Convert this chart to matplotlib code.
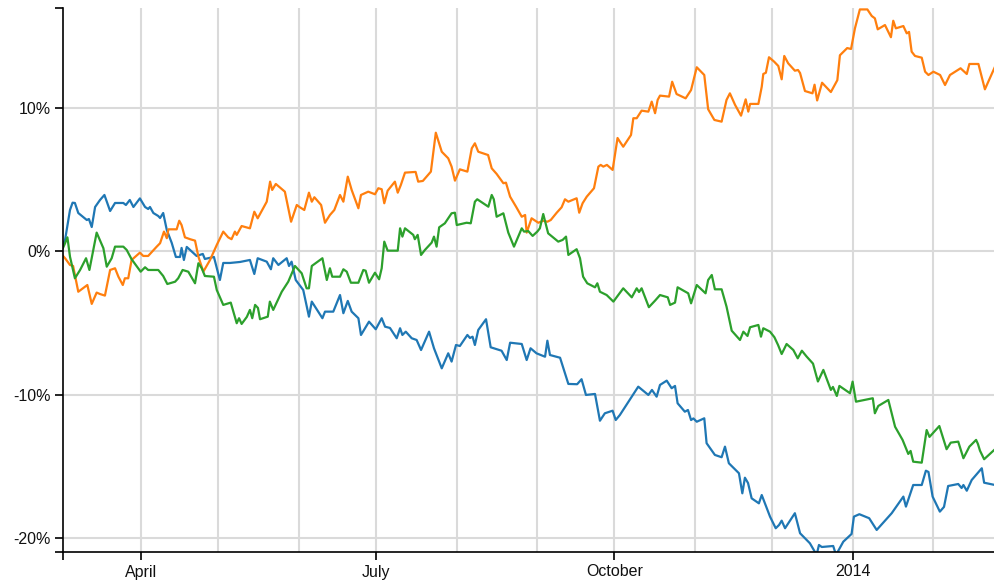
import matplotlib
matplotlib.use("Agg")
import matplotlib.pyplot as plt
import pandas as pd

START = pd.Timestamp("2013-03-02")
END_DAYS = 360

# days since START, cumulative change in %
BLUE_DAYS = [0, 0.8, 2.7, 3.7, 4.6, 5.9, 9.2, 10.0, 11.1, 12.4, 14.3, 16.0, 18.2, 20.1, 23.3, 24.3,
             25.8, 27.2, 29.7, 31.7, 32.9, 33.6, 34.9, 36.8, 37.5, 38.7, 40.1, 42.0, 43.6, 45.2,
             45.8, 46.7, 47.8, 51.6, 54.0, 54.8, 58.3, 60.6, 61.9, 64.5, 68.4, 72.2, 73.9, 75.2,
             78.7, 80.3, 81.2, 83.2, 86.4, 87.3, 88.3, 89.9, 92.8, 95.0, 96.1, 100.2, 101.2, 104.4,
             107.0, 108.3, 110.0, 111.5, 114.1, 115.1, 118.2, 120.8, 123.1, 124.4, 126.3, 128.9,
             130.2, 131.1, 132.4, 134.7, 136.6, 138.3, 141.4, 143.3, 146.3, 148.8, 150.1, 151.8,
             153.3, 156.2, 157.2, 158.2, 159.1, 160.4, 163.4, 165.2, 169.4, 171.4, 172.7, 177.2,
             179.1, 180.6, 182.9, 186.2, 187.1, 188.1, 192.0, 195.2, 198.6, 200.3, 202.0, 205.5,
             207.4, 209.3, 212.3, 213.5, 215.1, 219.7, 222.2, 226.1, 227.5, 229.3, 230.6, 233.2,
             235.1, 236.4, 237.4, 240.2, 241.4, 242.6, 243.5, 244.8, 247.7, 248.6, 251.8, 254.4,
             255.7, 257.2, 261.1, 262.4, 263.4, 264.6, 266.0, 268.8, 269.9, 273.1, 275.3, 276.6,
             277.6, 278.9, 282.7, 284.7, 288.5, 291.1, 292.0, 293.1, 297.5, 298.6, 301.4, 304.6,
             305.5, 307.6, 311.4, 314.3, 320.1, 324.6, 325.6, 328.4, 331.7, 333.3, 334.3, 335.9,
             338.7, 340.3, 341.9, 345.8, 347.1, 347.8, 349.1, 351.0, 354.9, 355.8, 360.0]
BLUE_PCT = [0.52, 0.80, 2.89, 3.40, 3.38, 2.68, 2.19, 2.26, 1.70, 3.10, 3.59, 3.94, 2.82, 3.38, 3.38,
            3.24, 3.59, 3.10, 3.70, 3.10, 2.96, 3.10, 2.68, 2.47, 2.33, 2.68, 1.49, 0.59, -0.39,
            -0.39, 0.24, -0.60, 0.31, -0.32, -0.18, -0.53, -0.39, -2.00, -0.81, -0.81, -0.74,
            -0.60, -1.58, -0.48, -0.72, -1.25, -0.48, -0.95, -0.48, -1.02, -0.72, -2.00, -2.70,
            -4.56, -3.51, -4.67, -4.21, -4.21, -3.05, -4.32, -3.46, -4.21, -4.67, -5.84, -4.91,
            -5.44, -4.67, -5.26, -5.35, -6.07, -5.37, -5.84, -5.61, -6.07, -6.19, -6.89, -5.61,
            -6.77, -8.17, -7.12, -7.70, -6.54, -6.61, -5.84, -6.05, -5.96, -6.54, -5.49, -4.74,
            -6.70, -6.94, -7.59, -6.38, -6.47, -7.59, -6.77, -7.12, -7.36, -6.24, -7.24, -7.43,
            -9.26, -9.28, -8.93, -10.03, -9.96, -11.83, -11.31, -11.13, -11.78, -11.43, -10.15,
            -9.45, -10.03, -9.68, -10.15, -9.33, -9.03, -9.56, -9.40, -10.61, -11.20, -11.08,
            -11.78, -11.67, -11.90, -11.66, -13.40, -14.22, -14.38, -13.64, -14.80, -15.50, -16.90,
            -15.81, -16.18, -17.25, -17.60, -17.02, -18.53, -19.34, -19.11, -18.81, -19.34, -18.29,
            -19.69, -20.39, -21.2, -20.51, -20.65, -20.58, -21.2, -20.28, -19.74, -18.53, -18.36,
            -18.64, -19.46, -18.29, -17.13, -17.83, -16.32, -16.32, -15.32, -15.41, -17.13, -18.18,
            -17.85, -16.39, -16.25, -16.53, -16.32, -16.72, -15.97, -15.15, -16.16, -16.32]

ORANGE_DAYS = [0, 0.8, 2.7, 3.9, 5.9, 8.5, 9.4, 11.1, 13.0, 14.3, 16.2, 18.2, 20.1, 21.4, 23.1, 23.9,
               25.2, 26.5, 29.7, 31.0, 32.9, 36.2, 37.5, 39.0, 40.1, 40.7, 43.9, 44.9, 45.8, 47.1,
               49.1, 51.0, 52.3, 54.2, 56.8, 59.4, 61.9, 63.8, 65.1, 66.4, 67.1, 69.0, 72.2, 73.9,
               75.2, 78.7, 80.0, 80.8, 82.2, 85.7, 88.1, 90.3, 91.5, 93.2, 95.0, 96.1, 97.1, 99.7,
               101.2, 103.1, 104.8, 107.0, 108.3, 110.0, 111.5, 114.1, 115.1, 117.9, 120.5, 121.8,
               123.1, 124.1, 125.4, 128.2, 129.3, 130.5, 132.1, 136.2, 137.2, 139.0, 142.1, 144.0,
               146.3, 148.8, 150.1, 151.4, 153.3, 156.2, 157.9, 159.1, 160.4, 164.2, 165.6, 167.5,
               170.1, 171.1, 172.7, 175.0, 177.2, 178.5, 179.1, 181.0, 183.6, 185.5, 187.1, 188.4,
               190.7, 192.6, 193.9, 195.2, 198.4, 199.4, 200.7, 202.3, 205.1, 206.8, 207.7, 208.7,
               210.1, 212.3, 214.2, 215.1, 216.4, 219.4, 220.3, 221.6, 223.5, 226.1, 227.4, 228.7,
               229.7, 230.6, 234.1, 235.3, 237.0, 240.5, 242.6, 244.8, 247.7, 249.2, 251.6, 254.4,
               256.3, 257.6, 259.6, 261.9, 263.7, 264.7, 265.4, 268.6, 269.9, 270.5, 271.5, 272.7,
               274.7, 276.3, 277.6, 278.6, 280.1, 282.7, 283.9, 284.7, 286.6, 289.5, 290.3, 291.3,
               293.2, 296.6, 299.1, 300.1, 302.9, 304.4, 305.9, 307.8, 310.7, 312.4, 313.6, 314.7,
               317.5, 319.8, 320.7, 321.7, 324.6, 325.9, 326.8, 327.8, 329.1, 331.7, 333.0, 334.3,
               336.2, 338.8, 340.7, 342.6, 346.7, 349.1, 350.1, 353.6, 356.1, 360.0]
ORANGE_PCT = [-0.32, -0.48, -0.95, -1.02, -2.82, -2.47, -2.35, -3.67, -2.88, -2.98, -3.09, -1.30,
              -1.18, -1.77, -2.35, -1.88, -1.88, -0.60, -0.09, -0.32, -0.32, 0.33, 0.57, 1.38, 0.92,
              1.54, 1.54, 2.14, 1.84, 0.98, 0.85, 0.75, -0.37, -1.42, -0.60, 0.45, 1.38, 0.98, 0.85,
              1.38, 1.15, 1.77, 1.61, 2.77, 2.31, 3.47, 4.87, 4.29, 4.71, 4.17, 2.07, 3.24, 3.08,
              2.89, 4.10, 3.47, 3.78, 3.24, 2.00, 2.54, 2.89, 3.94, 3.47, 5.22, 4.29, 3.01, 3.94,
              4.17, 3.99, 4.41, 4.34, 3.36, 4.24, 4.87, 4.10, 4.64, 5.50, 5.55, 4.87, 4.92, 5.57,
              8.29, 6.96, 6.50, 5.92, 4.94, 5.73, 5.57, 7.20, 7.55, 6.96, 6.73, 5.80, 5.41, 4.76,
              4.80, 3.82, 3.12, 2.42, 2.54, 1.31, 2.31, 2.00, 2.14, 2.07, 2.19, 2.70, 3.08, 3.64,
              3.47, 3.71, 2.70, 3.36, 3.82, 4.41, 5.92, 6.04, 5.92, 6.04, 5.69, 7.92, 7.66, 7.31,
              8.13, 9.30, 9.30, 9.83, 9.76, 10.46, 9.65, 10.58, 10.88, 10.81, 11.85, 10.99, 10.69,
              11.27, 12.86, 12.32, 9.93, 9.18, 9.06, 10.58, 11.04, 10.23, 9.48, 10.62, 9.76, 10.30,
              10.30, 11.50, 12.39, 12.48, 13.56, 13.25, 12.95, 12.02, 13.65, 13.14, 12.62, 12.67,
              12.46, 11.20, 11.04, 11.64, 10.54, 11.78, 11.13, 11.96, 13.70, 14.20, 14.14, 15.58,
              16.9, 16.9, 16.44, 16.28, 15.51, 15.81, 14.96, 16.11, 15.58, 15.74, 15.23, 15.33,
              13.95, 13.65, 13.53, 12.55, 12.32, 12.55, 12.32, 11.62, 12.32, 12.79, 12.39, 13.09,
              13.09, 11.32, 12.90]

GREEN_DAYS = [0, 0.8, 1.7, 2.7, 4.6, 6.6, 8.9, 10.2, 13.0, 15.6, 16.9, 18.8, 20.1, 23.3, 24.6, 26.5,
              30.0, 31.7, 32.9, 36.8, 38.7, 40.3, 43.3, 44.5, 46.2, 48.4, 51.0, 52.3, 53.6, 54.8,
              58.3, 59.4, 61.9, 64.8, 67.1, 68.0, 69.0, 71.0, 72.2, 73.1, 74.2, 75.3, 76.1, 79.1,
              79.9, 81.2, 84.5, 87.0, 89.6, 92.2, 94.1, 95.0, 96.1, 100.2, 101.9, 103.1, 104.0,
              107.0, 108.3, 109.6, 111.2, 114.1, 116.0, 116.9, 118.2, 120.5, 122.1, 123.1, 124.1,
              125.4, 129.3, 130.2, 131.1, 132.1, 135.3, 135.9, 137.0, 138.3, 139.8, 142.4, 143.3,
              144.3, 145.3, 147.5, 150.1, 151.4, 152.1, 155.9, 157.5, 159.1, 160.0, 164.3, 165.6,
              166.4, 167.5, 170.1, 172.0, 174.2, 177.2, 178.1, 179.7, 181.4, 183.2, 184.2, 185.5,
              187.4, 191.3, 193.0, 194.3, 195.2, 198.4, 199.7, 200.9, 202.5, 205.5, 206.4, 207.4,
              210.0, 212.6, 216.4, 219.7, 221.6, 222.5, 223.5, 226.3, 228.7, 230.6, 233.6, 234.5,
              236.4, 237.4, 241.5, 242.6, 244.8, 248.2, 249.2, 250.6, 251.8, 254.4, 256.3, 258.3,
              261.5, 262.8, 264.4, 265.4, 268.6, 269.6, 270.5, 273.1, 274.8, 276.2, 277.6, 279.5,
              282.1, 283.8, 285.4, 287.2, 289.7, 291.6, 293.7, 296.6, 297.4, 298.9, 299.9, 304.0,
              305.0, 306.3, 312.8, 313.6, 314.9, 318.8, 321.4, 324.3, 326.5, 327.4, 328.4, 331.7,
              333.6, 334.7, 338.5, 341.3, 342.9, 345.8, 347.8, 350.1, 352.7, 353.4, 354.2, 355.8,
              360.0]
GREEN_PCT = [0.24, 0.57, 0.98, -0.37, -1.88, -1.30, -0.48, -1.30, 1.31, 0.22, -1.07, -0.48, 0.33,
             0.33, 0.10, -0.55, -1.42, -1.11, -1.30, -1.30, -1.72, -2.28, -2.12, -1.88, -1.30, -1.42,
             -2.23, -0.83, -1.18, -1.72, -1.77, -2.70, -3.74, -3.58, -5.02, -4.67, -5.07, -4.58,
             -4.09, -4.67, -3.74, -3.95, -4.74, -4.56, -3.51, -4.09, -2.82, -2.12, -1.02, -1.53,
             -2.58, -2.58, -1.02, -0.48, -2.00, -1.18, -1.77, -1.77, -1.25, -1.42, -2.19, -2.19,
             -1.30, -1.35, -2.19, -1.49, -1.95, -1.18, 0.68, 0.05, 0.05, 1.61, 1.03, 1.61, 1.15,
             0.85, 1.15, -0.25, 0.10, 0.61, 1.03, 0.33, 1.68, 1.96, 2.66, 2.70, 1.84, 2.00, 1.96,
             3.47, 3.64, 3.12, 3.94, 3.64, 2.42, 2.66, 1.31, 0.33, 1.61, 1.38, 1.42, 1.08, 1.38,
             1.61, 2.61, 1.26, 0.68, 0.80, 1.03, -0.25, 0.15, -0.48, -1.77, -2.23, -2.51, -2.23,
             -2.82, -3.05, -3.51, -2.58, -3.21, -2.58, -2.84, -2.58, -3.90, -3.44, -3.05, -3.21,
             -3.74, -3.58, -2.51, -2.93, -3.63, -2.35, -2.93, -2.00, -1.65, -2.65, -2.65, -3.86,
             -5.54, -6.19, -5.61, -5.91, -5.30, -5.14, -5.96, -5.37, -5.61, -6.00, -6.54, -7.17,
             -6.47, -6.89, -7.47, -6.94, -7.34, -7.84, -9.09, -8.28, -9.68, -9.47, -10.10, -9.40,
             -9.91, -9.10, -10.50, -10.26, -11.31, -10.80, -10.38, -12.25, -13.17, -14.15, -13.94,
             -14.69, -14.76, -12.48, -12.96, -12.20, -13.82, -13.36, -13.29, -14.45, -13.64,
             -13.17, -13.45, -13.92, -14.52, -13.82]

SERIES = [
    (BLUE_DAYS, BLUE_PCT, "#1f77b4"),
    (ORANGE_DAYS, ORANGE_PCT, "#ff7f0e"),
    (GREEN_DAYS, GREEN_PCT, "#2ca02c"),
]

Y_MIN, Y_MAX = -21, 17
Y_TICKS = [-20, -10, 0, 10]
X_TICK_DATES = ["2013-04-01", "2013-07-01", "2013-10-01", "2014-01-01"]
X_TICK_LABELS = ["April", "July", "October", "2014"]


def to_dates(days):
    return START + pd.to_timedelta(days, unit="D")


plt.rcParams["font.family"] = ["Liberation Sans", "DejaVu Sans"]

fig = plt.figure(figsize=(9.95, 5.81), dpi=100)
ax = fig.add_axes([63 / 995, 1 - 552 / 581, 1 - 63 / 995, 544 / 581])

x_end = START + pd.Timedelta(days=END_DAYS)
grid_kw = dict(color="#dadada", linewidth=1.5, zorder=0)
for month in pd.date_range("2013-04-01", "2014-02-01", freq="MS"):
    ax.axvline(month, **grid_kw)
for y in Y_TICKS:
    ax.axhline(y, **grid_kw)

for days, pct, color in SERIES:
    ax.plot(to_dates(days), pct, color=color, linewidth=1.6, zorder=2)

ax.set_xlim(START, x_end)
ax.set_ylim(Y_MIN, Y_MAX)

xt = [START] + [pd.Timestamp(d) for d in X_TICK_DATES] + [x_end]
ax.set_xticks(xt)
ax.set_xticklabels([""] + X_TICK_LABELS + [""])
ax.set_yticks([Y_MIN] + Y_TICKS + [Y_MAX])
ax.set_yticklabels([""] + [f"{v}%" for v in Y_TICKS] + [""])

ax.tick_params(axis="both", length=6, width=1.2, color="black", labelsize=11.5,
               labelcolor="#111111", pad=3)

for side in ["top", "right"]:
    ax.spines[side].set_visible(False)
for side in ["left", "bottom"]:
    ax.spines[side].set_linewidth(1.2)
    ax.spines[side].set_color("black")

fig.savefig("out.png", dpi=100)
